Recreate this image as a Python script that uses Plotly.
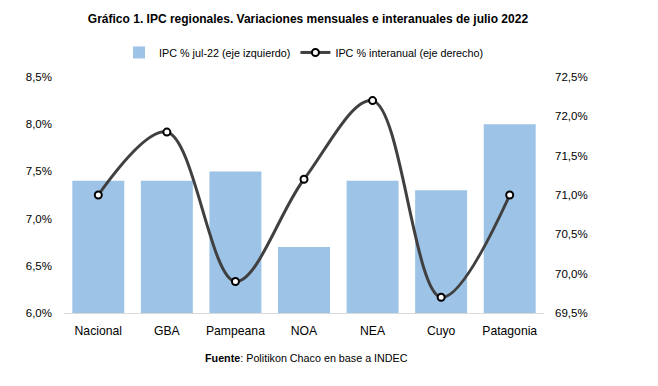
import plotly.graph_objects as go

categories = ["Nacional", "GBA", "Pampeana", "NOA", "NEA", "Cuyo", "Patagonia"]
ipc_mensual = [7.4, 7.4, 7.5, 6.7, 7.4, 7.3, 8.0]
ipc_interanual = [71.0, 71.8, 69.9, 71.2, 72.2, 69.7, 71.0]
left_ticks = [6.0, 6.5, 7.0, 7.5, 8.0, 8.5]
right_ticks = [69.5, 70.0, 70.5, 71.0, 71.5, 72.0, 72.5]

def fmt(v):
    return f"{v:.1f}%".replace(".", ",")

fig = go.Figure()
fig.add_trace(go.Bar(
    x=categories, y=ipc_mensual, name="IPC % jul-22 (eje izquierdo)",
    marker=dict(color="#9DC3E6", line=dict(width=0)),
))
fig.add_trace(go.Scatter(
    x=categories, y=ipc_interanual, name="IPC % interanual (eje derecho)",
    yaxis="y2", mode="lines+markers",
    line=dict(color="#404040", width=3, shape="spline", smoothing=1.0),
    marker=dict(size=7, color="white", line=dict(color="black", width=2)),
))

fig.update_layout(
    width=650, height=378,
    margin=dict(l=56, r=114, t=69, b=73),
    paper_bgcolor="white", plot_bgcolor="white",
    font=dict(family="Liberation Sans, Arial, sans-serif", size=12, color="#000000"),
    title=dict(text="<b>Gráfico 1. IPC regionales. Variaciones mensuales e interanuales de julio 2022</b>",
               xref="container", x=0.4615, xanchor="center",
               yref="container", y=0.971, yanchor="middle",
               font=dict(size=12, color="#000000")),
    bargap=0.242,
    showlegend=True,
    legend=dict(orientation="h", x=0.5, xanchor="center", y=1.104, yanchor="middle",
                font=dict(size=10.8), traceorder="normal"),
    xaxis=dict(showgrid=False, showline=True, linecolor="#D9D9D9", linewidth=1,
               ticks="", tickfont=dict(size=12.2), ticklabelstandoff=6),
    yaxis=dict(range=[6.0, 8.5], tickvals=left_ticks, ticktext=[fmt(v) for v in left_ticks],
               showgrid=False, zeroline=False, showline=False, ticks="",
               tickfont=dict(size=11.5), ticklabelstandoff=11),
    yaxis2=dict(range=[69.5, 72.5], tickvals=right_ticks, ticktext=[fmt(v) for v in right_ticks],
                overlaying="y", side="right", showgrid=False, zeroline=False, showline=False,
                ticks="", tickfont=dict(size=11.5), ticklabelstandoff=10),
    annotations=[dict(text="<b>Fuente</b>: Politikon Chaco en base a INDEC",
                      xref="paper", yref="paper", x=0.506, y=-0.1907, xanchor="center",
                      yanchor="middle", showarrow=False, font=dict(size=10.75))],
)

fig.write_html("out.html")
